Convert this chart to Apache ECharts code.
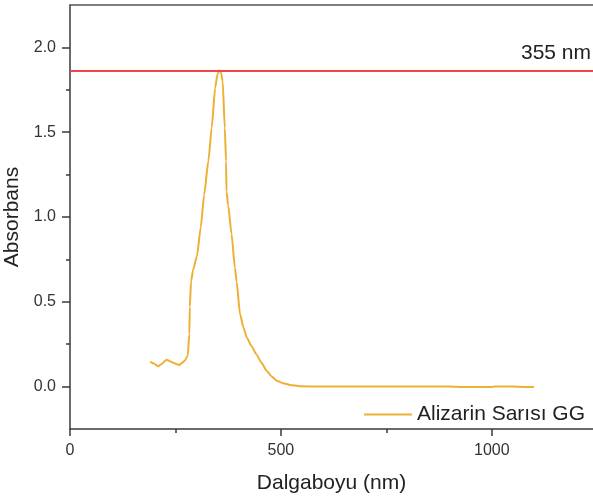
<!DOCTYPE html>
<html>
<head>
<meta charset="utf-8">
<script src="https://cdn.jsdelivr.net/npm/echarts@6/dist/echarts.min.js"></script>
<style>
  html, body { margin: 0; padding: 0; background: #fff; }
  #chart { width: 593px; height: 498px; }
</style>
</head>
<body>
<div id="chart"></div>
<script>
// wavelength (nm) / absorbance
var wavelength = [190, 200, 209, 218, 229, 237, 245, 252, 259, 266, 272, 279, 283, 284, 287, 292, 301, 310, 318, 328, 336, 344, 350, 354, 358, 362, 367, 370, 371, 375, 383, 391, 395, 403, 411, 419, 430, 442, 454, 466, 478, 490, 505, 521, 545, 600, 700, 800, 900, 930, 1000, 1005, 1050, 1080, 1100];
var absorbance = [0.147, 0.135, 0.12, 0.135, 0.159, 0.15, 0.14, 0.133, 0.128, 0.14, 0.153, 0.18, 0.31, 0.47, 0.62, 0.69, 0.77, 0.94, 1.13, 1.33, 1.525, 1.76, 1.845, 1.865, 1.85, 1.80, 1.525, 1.33, 1.15, 1.07, 0.90, 0.70, 0.62, 0.43, 0.35, 0.29, 0.24, 0.19, 0.14, 0.094, 0.06, 0.035, 0.02, 0.01, 0.002, 0.0, 0.0, 0.0, 0.0, -0.003, -0.003, 0.0, 0.0, -0.003, -0.003];

var yMajorTicks = [0, 0.5, 1, 1.5, 2];
var yMinorTicks = [0.25, 0.75, 1.25, 1.75];
var xMajorTicks = [0, 500, 1000];
var xMinorTicks = [250, 750];

var peakLevel = 1.865;
var peakLabel = '355 nm';
var seriesName = 'Alizarin Sarısı GG';

var axisColor = '#3a3a3a';
var textColor = '#222';
var fontFamily = 'Liberation Sans, Arial, sans-serif';

var chart = echarts.init(document.getElementById('chart'));

var points = wavelength.map(function (w, i) {
  return [w, absorbance[i]];
});

chart.setOption({
  animation: false,
  textStyle: { fontFamily: fontFamily },
  grid: { left: 70, top: 5, right: 0, bottom: 69, containLabel: false, outerBoundsMode: 'none' },
  legend: {
    right: 3,
    top: 399,
    icon: 'rect',
    itemWidth: 48,
    itemHeight: 2,
    itemGap: 0,
    textStyle: { fontSize: 21, color: textColor, fontFamily: fontFamily },
    data: [seriesName]
  },
  xAxis: [{
    type: 'value',
    min: 0,
    max: 1240,
    name: 'Dalgaboyu (nm)',
    nameLocation: 'middle',
    nameGap: 44,
    nameTextStyle: { fontSize: 21, color: textColor },
    axisLine: { onZero: false, lineStyle: { color: axisColor, width: 1.5 } },
    splitLine: { show: false },
    axisTick: { show: true, length: 7, lineStyle: { color: axisColor, width: 1.5 }, customValues: xMajorTicks },
    axisLabel: {
      fontSize: 16, color: '#333', margin: 14, customValues: xMajorTicks,
      formatter: function (v) { return String(v); }
    }
  }, {
    type: 'value',
    min: 0,
    max: 1240,
    position: 'bottom',
    axisLine: { show: false, onZero: false },
    splitLine: { show: false },
    axisTick: { show: true, length: 4, lineStyle: { color: axisColor, width: 1.5 }, customValues: xMinorTicks },
    axisLabel: { show: false }
  }, {
    type: 'value',
    min: 0,
    max: 1240,
    position: 'top',
    axisLine: { onZero: false, lineStyle: { color: '#555', width: 1.5 } },
    splitLine: { show: false },
    axisTick: { show: false },
    axisLabel: { show: false }
  }],
  yAxis: [{
    type: 'value',
    min: -0.25,
    max: 2.25,
    name: 'Absorbans',
    nameLocation: 'middle',
    nameGap: 43,
    nameTextStyle: { fontSize: 21, color: textColor },
    axisLine: { show: true, onZero: false, lineStyle: { color: axisColor, width: 1.5 } },
    splitLine: { show: false },
    axisTick: { show: true, length: 8, lineStyle: { color: axisColor, width: 1.5 }, customValues: yMajorTicks },
    axisLabel: {
      fontSize: 16, color: '#333', margin: 14, customValues: yMajorTicks,
      formatter: function (v) { return v.toFixed(1); }
    }
  }, {
    type: 'value',
    min: -0.25,
    max: 2.25,
    position: 'left',
    axisLine: { show: false, onZero: false },
    splitLine: { show: false },
    axisTick: { show: true, length: 4, lineStyle: { color: axisColor, width: 1.5 }, customValues: yMinorTicks },
    axisLabel: { show: false }
  }],
  series: [{
    name: seriesName,
    type: 'line',
    data: points,
    showSymbol: false,
    symbol: 'none',
    smooth: 0.2,
    smoothMonotone: 'x',
    lineStyle: { color: '#ECB134', width: 2 },
    itemStyle: { color: '#ECB134' },
    markLine: {
      silent: true,
      symbol: 'none',
      lineStyle: { color: '#F0444C', width: 2, type: 'solid' },
      label: {
        show: true,
        position: 'insideEndTop',
        formatter: peakLabel,
        fontSize: 21,
        color: textColor,
        distance: [2, 7]
      },
      data: [{ yAxis: peakLevel }]
    }
  }]
});
</script>
</body>
</html>
